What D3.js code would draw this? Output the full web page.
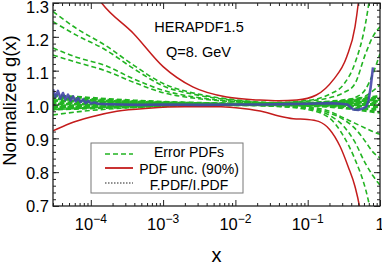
<!DOCTYPE html>
<html>
<head>
<meta charset="utf-8">
<script src="https://cdn.jsdelivr.net/npm/d3@7"></script>
<style>
  body { margin: 0; background: #fff; }
  text { font-family: "Liberation Sans", Arial, sans-serif; fill: #000; }
</style>
</head>
<body>
<div id="chart"></div>
<script>
// x positions (log10 x) of the error PDF curves
const gridLogX = [-4.523, -4.2, -3.8, -3.4, -3.0, -2.5, -2.0, -1.5, -1.0, -0.7, -0.5, -0.35, -0.2, -0.1, 0];

// error PDFs spreading out at low / high x
const errorPdfs = [
  [1.275, 1.225, 1.175, 1.115, 1.062, 1.030, 1.014, 1.006, 1.012, 1.030, 1.060, 1.120, 1.240, 1.380, 1.550],
  [1.245, 1.205, 1.162, 1.105, 1.055, 1.027, 1.012, 1.005, 1.010, 1.020, 1.035, 1.060, 1.150, 1.200, 1.230],
  [1.167, 1.140, 1.115, 1.075, 1.042, 1.020, 1.009, 1.004, 1.005, 1.008, 1.012, 1.020, 1.045, 1.090, 1.150],
  [1.146, 1.125, 1.100, 1.065, 1.035, 1.017, 1.008, 1.003, 1.004, 1.006, 1.010, 1.015, 1.025, 1.040, 1.058],
  [0.969, 0.978, 0.986, 0.991, 0.995, 0.997, 0.998, 0.995, 0.985, 0.960, 0.905, 0.840, 0.750, 0.660, 0.580],
  [0.985, 0.988, 0.992, 0.995, 0.997, 0.998, 0.999, 0.996, 0.988, 0.968, 0.935, 0.890, 0.825, 0.790, 0.762],
  [0.990, 0.992, 0.994, 0.996, 0.998, 0.999, 0.999, 0.997, 0.990, 0.975, 0.955, 0.930, 0.890, 0.860, 0.842],
  [0.994, 0.995, 0.996, 0.997, 0.998, 0.999, 1.000, 0.998, 0.993, 0.980, 0.960, 0.945, 0.930, 0.920, 0.912]
];

// error PDFs that stay close to 1 (the thick band)
const bandPdfs = [
  [1.027, 1.022, 1.016, 1.011, 1.007, 1.004, 1.002, 1.002, 1.004, 1.008, 1.012, 1.016, 1.020, 1.022, 1.024],
  [1.022, 1.018, 1.013, 1.009, 1.006, 1.003, 1.002, 1.001, 1.003, 1.006, 1.010, 1.013, 1.016, 1.018, 1.019],
  [1.017, 1.014, 1.010, 1.007, 1.005, 1.003, 1.001, 1.001, 1.002, 1.005, 1.007, 1.010, 1.012, 1.014, 1.015],
  [1.012, 1.010, 1.007, 1.005, 1.003, 1.002, 1.001, 1.001, 1.002, 1.003, 1.005, 1.006, 1.008, 1.009, 1.010],
  [1.006, 1.005, 1.004, 1.003, 1.002, 1.001, 1.000, 1.000, 1.001, 1.002, 1.002, 1.003, 1.004, 1.004, 1.005],
  [1.001, 1.001, 1.001, 1.000, 1.000, 1.000, 1.000, 1.000, 1.000, 1.000, 1.000, 1.000, 1.000, 1.000, 1.000],
  [0.996, 0.997, 0.998, 0.998, 0.999, 1.000, 1.000, 1.000, 0.999, 0.998, 0.997, 0.996, 0.995, 0.994, 0.993],
  [0.991, 0.992, 0.994, 0.996, 0.997, 0.998, 0.999, 0.999, 0.998, 0.996, 0.993, 0.990, 0.988, 0.986, 0.985],
  [0.986, 0.988, 0.991, 0.993, 0.996, 0.998, 0.999, 0.999, 0.997, 0.994, 0.990, 0.986, 0.982, 0.979, 0.977]
];

// PDF uncertainty band (90%)
const upperLogX = [-3.95, -3.85, -3.41, -3.0, -2.59, -2.12, -1.66, -1.4, -1.15, -0.88, -0.65, -0.46, -0.345, -0.30, -0.27];
const upperVals = [1.33, 1.30, 1.21, 1.112, 1.052, 1.022, 1.013, 1.011, 1.013, 1.028, 1.072, 1.141, 1.23, 1.30, 1.36];
const lowerLogX = [-4.523, -4.29, -4.0, -3.64, -3.2, -2.7, -2.2, -1.9, -1.6, -1.4, -1.2, -1.0, -0.85, -0.7, -0.55, -0.44, -0.345, -0.285, -0.25];
const lowerVals = [0.922, 0.944, 0.963, 0.980, 0.989, 0.993, 0.993, 0.988, 0.978, 0.966, 0.958, 0.956, 0.950, 0.927, 0.875, 0.816, 0.757, 0.70, 0.65];

// F.PDF/I.PDF ratio
const ratioLogX = [-4.523, -4.49, -4.455, -4.42, -4.385, -4.35, -4.315, -4.28, -4.245, -4.21, -4.175, -4.14, -4.105, -4.07, -4.035, -4.0, -3.95, -3.9, -3.8, -3.6, -3.3, -3.0, -2.5, -2.0, -1.6, -1.3, -1.0, -0.7, -0.55, -0.45, -0.37, -0.3, -0.24, -0.19, -0.16, -0.13, -0.097];
const ratioVals = [1.045, 1.022, 1.040, 1.018, 1.034, 1.015, 1.029, 1.012, 1.024, 1.009, 1.019, 1.007, 1.015, 1.004, 1.011, 1.003, 1.006, 1.002, 1.001, 1.000, 0.999, 1.000, 0.999, 1.000, 1.000, 1.001, 1.002, 1.004, 1.002, 1.000, 0.985, 0.984, 0.988, 0.994, 1.010, 1.050, 1.110];

// tick labels
const yTicks = [0.7, 0.8, 0.9, 1.0, 1.1, 1.2, 1.3];
const xTicks = [1e-4, 1e-3, 1e-2, 1e-1, 1];
const xTickLabels = [['10', '\u22124'], ['10', '\u22123'], ['10', '\u22122'], ['10', '\u22121'], ['1', '']];

const legendItems = ['Error PDFs', 'PDF unc. (90%)', 'F.PDF/I.PDF'];

// Size of the chart
const width = 382;
const height = 265;
const plotLeft = 53, plotRight = 380, plotTop = 3, plotBottom = 206;

const green = '#22b422';
const red = '#c41c1c';
const blue = '#4646aa';

const x = d3.scaleLog().domain([3e-5, 1]).range([plotLeft, plotRight]);
const y = d3.scaleLinear().domain([0.7, 1.3]).range([plotBottom, plotTop]);
// baselines of the y tick labels (top label sits a bit lower to stay inside)
const yLabel = d3.scaleLinear().domain([0.7, 1.3]).range([212.3, 13]);

const svg = d3.select('#chart')
  .append('svg')
  .attr('width', width)
  .attr('height', height);

svg.append('clipPath')
  .attr('id', 'clip')
  .append('rect')
  .attr('x', plotLeft)
  .attr('y', plotTop)
  .attr('width', plotRight - plotLeft)
  .attr('height', plotBottom - plotTop);

const plot = svg.append('g').attr('clip-path', 'url(#clip)');

const line = d3.line()
  .x(d => x(10 ** d[0]))
  .y(d => y(d[1]))
  .curve(d3.curveMonotoneX);

const zip = (xs, ys) => xs.map((v, i) => [v, ys[i]]);

// band of error PDFs near 1
plot.selectAll('.band')
  .data(bandPdfs)
  .enter()
  .append('path')
  .attr('d', d => line(zip(gridLogX, d)))
  .attr('fill', 'none')
  .attr('stroke', green)
  .attr('stroke-width', 2.8)
  .attr('stroke-dasharray', '5,3')
  .attr('stroke-dashoffset', (d, i) => (i % 3) * 1.5);

// spreading error PDFs
plot.selectAll('.err')
  .data(errorPdfs)
  .enter()
  .append('path')
  .attr('d', d => line(zip(gridLogX, d)))
  .attr('fill', 'none')
  .attr('stroke', green)
  .attr('stroke-width', 1.6)
  .attr('stroke-dasharray', '5,3');

// PDF uncertainty
[[upperLogX, upperVals], [lowerLogX, lowerVals]].forEach(([xs, ys]) => {
  plot.append('path')
    .attr('d', line(zip(xs, ys)))
    .attr('fill', 'none')
    .attr('stroke', red)
    .attr('stroke-width', 1.5);
});

// ratio line
plot.append('path')
  .attr('d', line.curve(d3.curveLinear)(zip(ratioLogX, ratioVals)))
  .attr('fill', 'none')
  .attr('stroke', blue)
  .attr('stroke-opacity', 0.9)
  .attr('stroke-width', 2.6)
  .attr('stroke-linejoin', 'round');

// Axes with inward ticks
const yMinor = y.ticks(30);
const xMinor = x.ticks().filter(v => !xTicks.includes(v));

function addAxis(axisFn, scale, values, size, tx, ty) {
  svg.append('g')
    .attr('transform', `translate(${tx},${ty})`)
    .call(axisFn(scale).tickValues(values).tickSize(-size).tickSizeOuter(0).tickFormat(''))
    .call(g => g.select('.domain').remove())
    .call(g => g.selectAll('line').attr('stroke', '#222'));
}

addAxis(d3.axisLeft, y, yMinor, 3, plotLeft, 0);
addAxis(d3.axisLeft, y, yTicks, 6, plotLeft, 0);
addAxis(d3.axisRight, y, yMinor, 3, plotRight, 0);
addAxis(d3.axisRight, y, yTicks, 6, plotRight, 0);
addAxis(d3.axisBottom, x, xMinor, 3, 0, plotBottom);
addAxis(d3.axisBottom, x, xTicks, 6, 0, plotBottom);
addAxis(d3.axisTop, x, xMinor, 3, 0, plotTop);
addAxis(d3.axisTop, x, xTicks, 6, 0, plotTop);

// frame
svg.append('rect')
  .attr('x', plotLeft)
  .attr('y', plotTop)
  .attr('width', plotRight - plotLeft)
  .attr('height', plotBottom - plotTop)
  .attr('fill', 'none')
  .attr('stroke', '#222')
  .attr('stroke-width', 1.3);

// y tick labels
svg.selectAll('.ylab')
  .data(yTicks)
  .enter()
  .append('text')
  .attr('x', plotLeft - 4)
  .attr('y', d => yLabel(d))
  .attr('text-anchor', 'end')
  .attr('font-size', 16.5)
  .text(d => d.toFixed(1));

// x tick labels with exponents
const xl = svg.selectAll('.xlab')
  .data(xTicks)
  .enter()
  .append('text')
  .attr('x', d => x(d))
  .attr('y', 230)
  .attr('text-anchor', 'middle')
  .attr('font-size', 16.5);
xl.append('tspan').text((d, i) => xTickLabels[i][0]);
xl.append('tspan')
  .attr('font-size', 12)
  .attr('dy', -7)
  .text((d, i) => xTickLabels[i][1]);

// axis titles
svg.append('text')
  .attr('x', (plotLeft + plotRight) / 2)
  .attr('y', 262)
  .attr('text-anchor', 'middle')
  .attr('font-size', 20)
  .text('x');

svg.append('text')
  .attr('transform', 'translate(16,100.5) rotate(-90)')
  .attr('text-anchor', 'middle')
  .attr('font-size', 18.5)
  .text('Normalized g(x)');

// labels in the plot
svg.append('text')
  .attr('x', 199)
  .attr('y', 31.5)
  .attr('text-anchor', 'middle')
  .attr('font-size', 14.5)
  .text('HERAPDF1.5');

svg.append('text')
  .attr('x', 198.5)
  .attr('y', 57)
  .attr('text-anchor', 'middle')
  .attr('font-size', 14.5)
  .text('Q=8. GeV');

// legend
const legend = svg.append('g');
legend.append('rect')
  .attr('x', 91)
  .attr('y', 143)
  .attr('width', 152)
  .attr('height', 50)
  .attr('fill', '#fff')
  .attr('stroke', '#777')
  .attr('stroke-width', 1);

const legendStyles = [
  { color: green, dash: '5,3', w: 1.5 },
  { color: red, dash: null, w: 1.8 },
  { color: '#222', dash: '1.5,1.5', w: 1.2 }
];
const legendY = [154, 168, 183];

legend.selectAll('.ll')
  .data(legendItems)
  .enter()
  .append('line')
  .attr('x1', 105)
  .attr('x2', 133)
  .attr('y1', (d, i) => legendY[i])
  .attr('y2', (d, i) => legendY[i])
  .attr('stroke', (d, i) => legendStyles[i].color)
  .attr('stroke-width', (d, i) => legendStyles[i].w)
  .attr('stroke-dasharray', (d, i) => legendStyles[i].dash);

legend.selectAll('.lt')
  .data(legendItems)
  .enter()
  .append('text')
  .attr('x', 189)
  .attr('y', (d, i) => [157, 173.5, 190][i])
  .attr('text-anchor', 'middle')
  .attr('font-size', 14)
  .text(d => d);
</script>
</body>
</html>
